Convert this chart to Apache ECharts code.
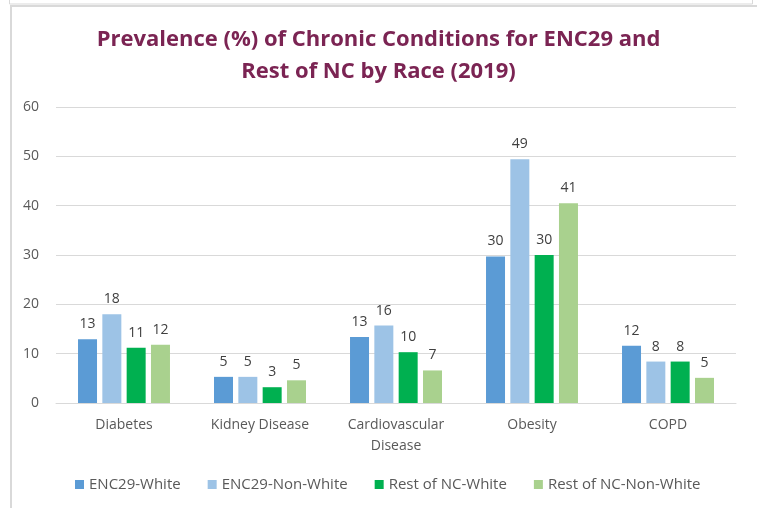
<!DOCTYPE html>
<html>
<head>
<meta charset="utf-8">
<script src="https://cdn.jsdelivr.net/npm/echarts@6/dist/echarts.min.js"></script>
<style>
  html, body { margin: 0; padding: 0; background: #fff; }
  #chart { width: 757px; height: 508px; }
</style>
</head>
<body>
<div id="chart"></div>
<script>
// conditions along the x axis
var categories = ['Diabetes', 'Kidney Disease', 'Cardiovascular\nDisease', 'Obesity', 'COPD'];

// prevalence (%)
var enc29White    = [12.9, 5.3, 13.4, 29.7, 11.6];
var enc29NonWhite = [18.0, 5.3, 15.7, 49.4, 8.4];
var restWhite     = [11.2, 3.2, 10.3, 30.0, 8.4];
var restNonWhite  = [11.8, 4.6, 6.6, 40.5, 5.1];

var seriesNames = ['ENC29-White', 'ENC29-Non-White', 'Rest of NC-White', 'Rest of NC-Non-White'];
var seriesColors = ['#5B9BD5', '#9DC3E6', '#00B050', '#A9D18E'];
var seriesData = [enc29White, enc29NonWhite, restWhite, restNonWhite];

var font = 'Open Sans';

var myChart = echarts.init(document.getElementById('chart'), null, { renderer: 'canvas' });

var series = seriesData.map(function (d, i) {
  return {
    name: seriesNames[i],
    type: 'bar',
    data: d,
    barWidth: 19,
    barGap: '28%',
    itemStyle: { color: seriesColors[i] },
    label: {
      show: true,
      position: 'top',
      distance: 8,
      color: '#404040',
      fontFamily: font,
      fontSize: 14,
      formatter: function (p) { return Math.round(p.value); }
    }
  };
});

myChart.setOption({
  animation: false,
  title: {
    text: 'Prevalence (%) of Chronic Conditions for ENC29 and\nRest of NC by Race (2019)',
    left: 'center',
    top: 19,
    textStyle: {
      color: '#7B2453',
      fontFamily: font,
      fontWeight: 'bold',
      fontSize: 22,
      lineHeight: 32
    }
  },
  legend: {
    bottom: 11,
    left: 70,
    itemWidth: 9,
    itemHeight: 9,
    itemGap: 27,
    icon: 'rect',
    textStyle: { color: '#595959', fontFamily: font, fontSize: 15 }
  },
  grid: { left: 56, right: 21, top: 107, bottom: 105 },
  xAxis: {
    type: 'category',
    data: categories,
    axisLine: { lineStyle: { color: '#d9d9d9' } },
    axisTick: { show: false },
    axisLabel: { color: '#595959', fontFamily: font, fontSize: 14, margin: 12, lineHeight: 21 }
  },
  yAxis: {
    type: 'value',
    min: 0,
    max: 60,
    interval: 10,
    axisLine: { show: false },
    axisTick: { show: false },
    axisLabel: { color: '#595959', fontFamily: font, fontSize: 14, margin: 17 },
    splitLine: { lineStyle: { color: '#d9d9d9' } }
  },
  graphic: [
    { type: 'rect', shape: { x: 9.5, y: -5, width: 743, height: 9 }, style: { fill: 'none', stroke: '#d9d9d9', lineWidth: 1 } },
    { type: 'rect', shape: { x: 11, y: 6, width: 752, height: 510 }, style: { fill: 'none', stroke: '#d9d9d9', lineWidth: 2 } }
  ],
  series: series
});
</script>
</body>
</html>
